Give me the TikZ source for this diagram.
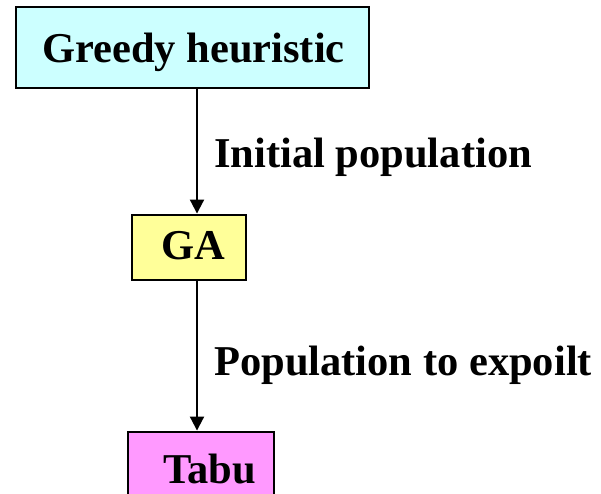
\documentclass[tikz,border=0pt]{standalone}
\usepackage{fontspec}
\setmainfont{Liberation Serif}
\usetikzlibrary{arrows.meta}
\definecolor{greedyfill}{HTML}{CCFFFF}
\definecolor{gafill}{HTML}{FFFF99}
\definecolor{tabufill}{HTML}{FF99FF}
\begin{document}
\begin{tikzpicture}[x=1pt,y=-1pt,
  box/.style={draw=black, line width=2.9pt, rectangle, inner sep=0pt},
  txt/.style={font=\fontsize{42.5}{50}\selectfont\bfseries, inner sep=0pt, text height=28pt, text depth=0pt},
  flow/.style={line width=2pt, -{Triangle[width=14pt,length=14pt]}}]
  \useasboundingbox (0,0) rectangle (601,493);
  \clip (0,0) rectangle (601,493);
  % process boxes
  \node[box, fill=greedyfill, minimum width=353pt, minimum height=81pt] (greedy) at (192.5,47.5) {};
  \node[txt] (greedytext) at (193.5,48.5) {Greedy heuristic};
  \node[box, fill=gafill, minimum width=114pt, minimum height=65pt] (ga) at (189,247.5) {};
  \node[txt] (gatext) at (193,245.5) {GA};
  \node[box, fill=tabufill, minimum width=146pt, minimum height=90pt] (tabu) at (201,477) {};
  \node[txt] (tabutext) at (209.5,469) {Tabu};
  % connectors
  \coordinate (ax) at (197,0);
  \draw[flow] (greedy.south -| ax) -- (ga.north -| ax);
  \draw[flow] (ga.south -| ax) -- (tabu.north -| ax);
  % connector labels
  \node[txt, anchor=base west] (lab1) at (214,167) {Initial population};
  \node[txt, anchor=base west] (lab2) at (214,375) {Population to expoilt};
\end{tikzpicture}
\end{document}
